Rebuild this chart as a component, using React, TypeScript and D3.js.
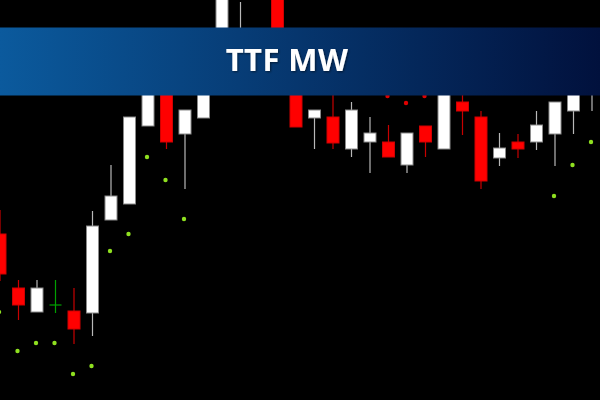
import React from "react";
import * as d3 from "d3";

const W = 600;
const H = 400;

// candle index (0..32)
const opens = [36.3, 33.6, 32.4, 32.75, 32.45, 32.35, 37.0, 37.8, 41.7, 43.5, 41.3, 42.1, 44.5, 45.0, 45.75, 48.5, 45.0, 42.1, 42.15, 40.55, 40.9, 40.9, 39.75, 41.7, 40.55, 42.9, 42.15, 40.1, 40.9, 40.9, 41.3, 42.45, 43.75];
const highs = [37.5, 34.0, 34.0, 34.0, 33.6, 37.45, 39.75, 42.15, 44.0, 43.75, 42.5, 45.5, 49.0, 47.9, 46.25, 48.75, 45.5, 42.5, 43.75, 42.9, 42.15, 41.75, 41.35, 41.7, 43.75, 43.5, 42.45, 41.35, 41.3, 42.45, 42.9, 44.0, 45.25];
const lows = [33.95, 32.0, 32.4, 32.35, 30.8, 31.2, 37.0, 37.8, 41.7, 40.55, 38.55, 42.1, 44.25, 44.5, 43.75, 44.5, 41.65, 40.55, 40.55, 40.15, 39.35, 40.15, 39.35, 40.15, 40.55, 41.25, 38.55, 39.7, 40.1, 40.5, 39.7, 41.3, 42.45];
const closes = [34.3, 32.75, 33.6, 32.75, 31.55, 36.7, 38.2, 42.15, 43.75, 40.9, 42.5, 45.0, 48.75, 46.5, 44.5, 45.0, 41.65, 42.5, 40.85, 42.5, 41.35, 40.15, 41.35, 40.9, 43.5, 42.45, 38.95, 40.6, 40.55, 41.75, 42.9, 43.75, 45.0];

// parabolic SAR points that are visible (null = not shown)
const sarBelow = [32.4, 30.45, 30.85, 30.85, 29.3, 29.7, 35.45, 36.3, 40.15, 39.0, 37.05, null, null, null, null, null, null, null, null, null, null, null, null, null, null, null, null, null, null, null, 38.2, 39.75, 40.9];
const sarAbove = [null, null, null, null, null, null, null, null, null, null, null, null, null, null, null, null, null, null, null, null, null, 43.2, 42.85, 43.2, null, null, null, null, null, null, null, null, null];

const title = "TTF MW";

export default function App() {
  const n = opens.length;
  const idx = d3.range(n);
  const x = d3.scaleLinear().domain([0, n - 1]).range([0, 592]);
  const y = d3.scaleLinear().domain([48, 28]).range([0, 400]);
  const bw = 12;

  return (
    <svg
      width={W}
      height={H}
      style={{ position: "fixed", left: 0, top: 0, background: "#000" }}
    >
      <defs>
        <linearGradient id="banner" x1="0" x2="1" y1="0" y2="0">
          <stop offset="0%" stopColor="#0b5a9d" />
          <stop offset="100%" stopColor="#01113d" />
        </linearGradient>
        <filter id="ts" x="-10%" y="-20%" width="130%" height="150%">
          <feDropShadow dx="1" dy="1" stdDeviation="0.8" floodColor="#000" floodOpacity="0.5" />
        </filter>
      </defs>
      <rect x={0} y={0} width={W} height={H} fill="#000" />
      <g>
        {idx.map((i) => {
          const o = opens[i];
          const c = closes[i];
          const cx = x(i);
          const up = c > o;
          const doji = c === o;
          const wickColor = doji ? "#00a000" : up ? "#b8b8b8" : "#c80000";
          const top = y(Math.max(o, c));
          const bot = y(Math.min(o, c));
          return (
            <g key={i}>
              <line
                x1={cx}
                x2={cx}
                y1={y(highs[i])}
                y2={y(lows[i])}
                stroke={wickColor}
                strokeWidth={1.2}
              />
              {doji ? (
                <line
                  x1={cx - bw / 2}
                  x2={cx + bw / 2}
                  y1={top}
                  y2={top}
                  stroke="#00a000"
                  strokeWidth={1.2}
                />
              ) : (
                <rect
                  x={cx - bw / 2}
                  y={top}
                  width={bw}
                  height={Math.max(1, bot - top)}
                  fill={up ? "#ffffff" : "#ff0000"}
                  stroke={up ? "#8a8a8a" : "#d00000"}
                  strokeWidth={1}
                />
              )}
            </g>
          );
        })}
      </g>
      <g>
        {idx.map((i) =>
          sarBelow[i] != null ? (
            <circle key={"b" + i} cx={x(i) - 1} cy={y(sarBelow[i] as number)} r={2.2} fill="#8fe020" />
          ) : null
        )}
        {idx.map((i) =>
          sarAbove[i] != null ? (
            <circle key={"a" + i} cx={x(i) - 1} cy={y(sarAbove[i] as number)} r={2.2} fill="#e00000" />
          ) : null
        )}
      </g>
      <rect x={0} y={27.5} width={W} height={68} fill="url(#banner)" />
      <text
        x={287}
        y={70.5}
        textAnchor="middle"
        fill="#ffffff"
        fontFamily="'Open Sans', sans-serif"
        fontWeight={700}
        fontSize={31}
        letterSpacing={0.4}
        filter="url(#ts)"
      >
        {title}
      </text>
    </svg>
  );
}
